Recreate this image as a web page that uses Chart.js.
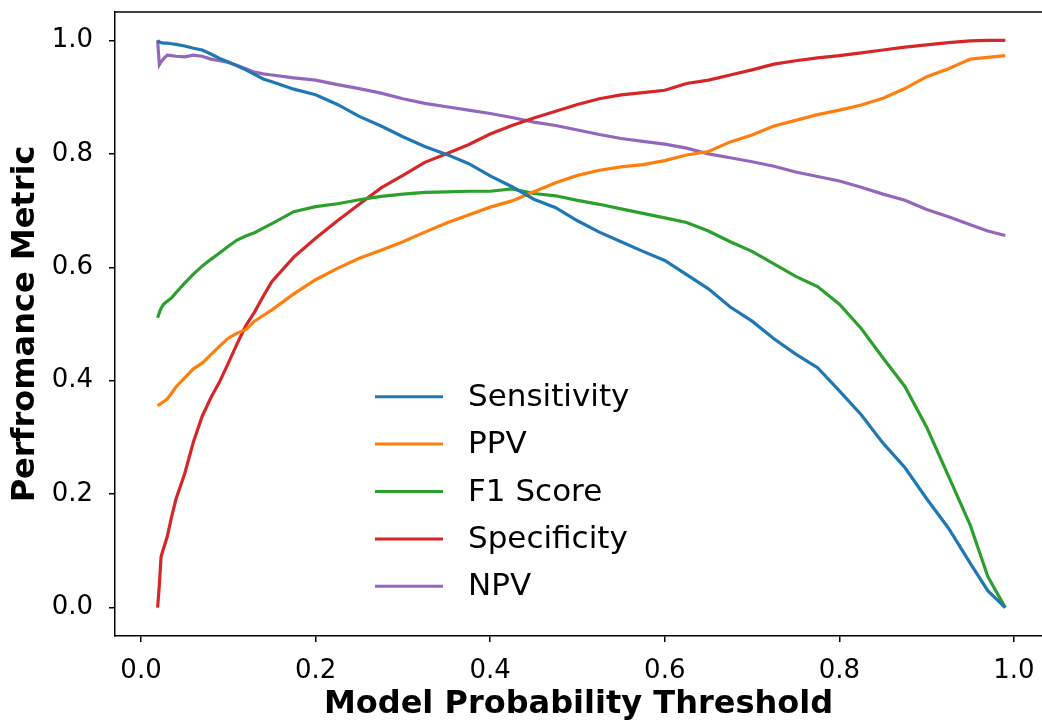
<!DOCTYPE html>
<html>
<head>
<meta charset="utf-8">
<script src="https://cdn.jsdelivr.net/npm/chart.js@4.4.1/dist/chart.umd.min.js"></script>
<style>
  html, body { margin: 0; padding: 0; background: #fff; overflow: hidden; }
  #c { display: block; }
</style>
</head>
<body>
<canvas id="c" width="1042" height="725"></canvas>
<script>
const thresholds = [0.019, 0.021, 0.023, 0.026, 0.03, 0.035, 0.04, 0.05, 0.06, 0.07, 0.08, 0.09, 0.10, 0.11, 0.12, 0.13, 0.14, 0.15, 0.175, 0.2, 0.225, 0.25, 0.275, 0.3, 0.325, 0.35, 0.375, 0.4, 0.425, 0.45, 0.475, 0.5, 0.525, 0.55, 0.575, 0.6, 0.625, 0.65, 0.675, 0.7, 0.725, 0.75, 0.775, 0.8, 0.825, 0.85, 0.875, 0.9, 0.925, 0.95, 0.97, 0.99];

const sensitivity = [1.0, 0.997, 0.996, 0.995, 0.995, 0.994, 0.993, 0.990, 0.986, 0.983, 0.976, 0.968, 0.962, 0.955, 0.948, 0.940, 0.932, 0.927, 0.914, 0.904, 0.887, 0.866, 0.849, 0.830, 0.813, 0.799, 0.783, 0.761, 0.742, 0.720, 0.705, 0.682, 0.662, 0.645, 0.628, 0.612, 0.587, 0.562, 0.530, 0.505, 0.474, 0.447, 0.423, 0.382, 0.340, 0.290, 0.247, 0.192, 0.140, 0.078, 0.030, 0.0];

const ppv = [0.356, 0.358, 0.360, 0.363, 0.368, 0.378, 0.389, 0.405, 0.421, 0.431, 0.446, 0.461, 0.475, 0.484, 0.490, 0.505, 0.515, 0.525, 0.553, 0.578, 0.598, 0.616, 0.630, 0.645, 0.662, 0.678, 0.692, 0.706, 0.717, 0.733, 0.749, 0.762, 0.771, 0.777, 0.781, 0.788, 0.798, 0.804, 0.821, 0.833, 0.849, 0.859, 0.869, 0.877, 0.886, 0.898, 0.915, 0.936, 0.950, 0.967, 0.970, 0.973];

const f1Score = [0.511, 0.520, 0.528, 0.535, 0.540, 0.546, 0.555, 0.572, 0.588, 0.602, 0.614, 0.625, 0.637, 0.648, 0.655, 0.661, 0.669, 0.677, 0.698, 0.707, 0.712, 0.719, 0.725, 0.729, 0.732, 0.733, 0.734, 0.734, 0.738, 0.730, 0.726, 0.718, 0.711, 0.703, 0.695, 0.687, 0.679, 0.664, 0.645, 0.628, 0.606, 0.584, 0.566, 0.535, 0.492, 0.440, 0.390, 0.318, 0.232, 0.145, 0.055, 0.0];

const specificity = [0.0, 0.040, 0.090, 0.105, 0.125, 0.160, 0.191, 0.236, 0.292, 0.337, 0.370, 0.398, 0.431, 0.465, 0.497, 0.521, 0.549, 0.575, 0.618, 0.651, 0.682, 0.711, 0.740, 0.762, 0.785, 0.800, 0.816, 0.835, 0.850, 0.863, 0.875, 0.887, 0.897, 0.904, 0.908, 0.912, 0.924, 0.930, 0.939, 0.948, 0.958, 0.964, 0.969, 0.973, 0.978, 0.983, 0.988, 0.992, 0.996, 0.999, 1.0, 1.0];

const npv = [1.0, 0.957, 0.962, 0.968, 0.974, 0.973, 0.972, 0.971, 0.974, 0.972, 0.967, 0.964, 0.961, 0.956, 0.950, 0.944, 0.941, 0.939, 0.934, 0.930, 0.922, 0.915, 0.907, 0.897, 0.889, 0.883, 0.877, 0.871, 0.864, 0.856, 0.850, 0.842, 0.834, 0.827, 0.822, 0.817, 0.810, 0.800, 0.793, 0.786, 0.778, 0.768, 0.760, 0.752, 0.741, 0.729, 0.718, 0.702, 0.689, 0.675, 0.664, 0.656];

const seriesLabels = ['Sensitivity', 'PPV', 'F1 Score', 'Specificity', 'NPV'];
const seriesColors = ['#1f77b4', '#ff7f0e', '#2ca02c', '#d62728', '#9467bd'];
const xTicks = [0.0, 0.2, 0.4, 0.6, 0.8, 1.0];
const yTicks = [0.0, 0.2, 0.4, 0.6, 0.8, 1.0];
const xTitle = 'Model Probability Threshold';
const yTitle = 'Perfromance Metric';

const seriesValues = [sensitivity, ppv, f1Score, specificity, npv];

Chart.defaults.font.family = "'DejaVu Sans', sans-serif";
Chart.defaults.color = '#000';

const datasets = seriesValues.map((vals, i) => ({
  label: seriesLabels[i],
  data: thresholds.map((t, j) => ({x: t, y: vals[j]})),
  borderColor: seriesColors[i],
  backgroundColor: seriesColors[i],
  borderWidth: 3.2,
  pointRadius: 0,
  tension: 0,
  fill: false
}));

const framePlugin = {
  id: 'frame',
  afterDraw(chart) {
    const {ctx, chartArea: a} = chart;
    ctx.save();
    ctx.strokeStyle = '#000';
    ctx.lineWidth = 1.5;
    ctx.beginPath();
    ctx.moveTo(a.left, a.top);
    ctx.lineTo(a.right, a.top);
    ctx.stroke();
    // legend
    const x0 = a.left + 260, lineLen = 68, textX = x0 + 93;
    const y0 = 396.7, dy = 47.4;
    ctx.font = "31px 'DejaVu Sans', sans-serif";
    ctx.textBaseline = 'middle';
    ctx.textAlign = 'left';
    chart.data.datasets.forEach((ds, i) => {
      const y = y0 + i * dy;
      ctx.strokeStyle = ds.borderColor;
      ctx.lineWidth = 3;
      ctx.beginPath();
      ctx.moveTo(x0, y);
      ctx.lineTo(x0 + lineLen, y);
      ctx.stroke();
      ctx.fillStyle = '#000';
      ctx.fillText(ds.label, textX, y + 1);
    });
    ctx.restore();
  }
};

new Chart(document.getElementById('c'), {
  type: 'line',
  data: { datasets },
  options: {
    responsive: false,
    animation: false,
    layout: { padding: { left: 0, top: 12, right: 0, bottom: 0 } },
    plugins: { legend: { display: false }, tooltip: { enabled: false } },
    scales: {
      x: {
        type: 'linear',
        min: -0.0298,
        max: 1.0321,
        afterBuildTicks: (s) => { s.ticks = xTicks.map(v => ({value: v})); },
        afterFit: (s) => { s.height = 89; s.paddingLeft = 0; s.paddingRight = 0; },
        ticks: {
          font: { size: 26 },
          color: '#000',
          padding: 14,
          maxRotation: 0,
          autoSkip: false,
          callback: (v) => Number(v).toFixed(1)
        },
        grid: { display: true, drawOnChartArea: false, drawTicks: true, tickLength: 6, color: '#000', lineWidth: 1.5 },
        border: { display: true, color: '#000', width: 1.5 },
        title: { display: true, text: xTitle, font: { size: 32, weight: 'bold' }, color: '#000', padding: { top: 0, bottom: 1 } }
      },
      y: {
        type: 'linear',
        min: -0.05,
        max: 1.05,
        afterBuildTicks: (s) => { s.ticks = yTicks.map(v => ({value: v})); },
        afterFit: (s) => { s.width = 115; s.paddingTop = 0; s.paddingBottom = 0; },
        ticks: {
          font: { size: 26 },
          color: '#000',
          padding: 16,
          autoSkip: false,
          callback: (v) => Number(v).toFixed(1)
        },
        grid: { display: true, drawOnChartArea: false, drawTicks: true, tickLength: 6, color: '#000', lineWidth: 1.5 },
        border: { display: true, color: '#000', width: 1.5 },
        title: { display: true, text: yTitle, font: { size: 32, weight: 'bold' }, color: '#000', padding: { top: 6.5, bottom: 0 } }
      }
    }
  },
  plugins: [framePlugin]
});
</script>
</body>
</html>
